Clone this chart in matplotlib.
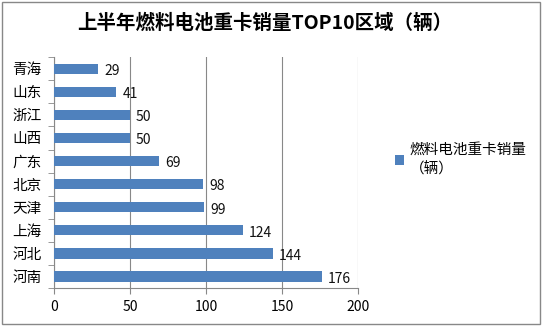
import matplotlib
matplotlib.use('Agg')
import matplotlib.pyplot as plt
from matplotlib.patches import Rectangle

plt.rcParams['font.family'] = ['Noto Sans CJK SC', 'DejaVu Sans']

regions = ['青海', '山东', '浙江', '山西', '广东', '北京', '天津', '上海', '河北', '河南']
sales = [29, 41, 50, 50, 69, 98, 99, 124, 144, 176]
xticks = [0, 50, 100, 150, 200]

fig = plt.figure(figsize=(5.42, 3.26), dpi=100)
ax = fig.add_axes([0.0996, 0.1166, 0.561, 0.708])

y = list(range(len(regions)))[::-1]
bars = ax.barh(y, sales, height=0.45, color='#4F81BD', label='燃料电池重卡销量\n（辆）', zorder=3)
for yi, v in zip(y, sales):
    ax.text(v + 4, yi - 0.1, str(v), va='center', ha='left', fontsize=10, color='#111111')

ax.set_xlim(0, 200)
ax.set_ylim(-0.5, len(regions) - 0.5)
ax.set_xticks(xticks)
ax.set_xticklabels([str(t) for t in xticks], fontsize=10)
ax.set_yticks(y)
ax.set_yticklabels(regions, fontsize=10.5)
ax.set_yticks([i - 0.5 for i in range(len(regions) + 1)], minor=True)
ax.tick_params(axis='y', which='major', length=0, pad=9)
ax.tick_params(axis='y', which='minor', length=4, color='#888888')
ax.tick_params(axis='x', length=4, color='#888888', pad=5)
ax.xaxis.grid(True, color='#888888', linewidth=0.8, zorder=0)
for s in ['top', 'right']:
    ax.spines[s].set_visible(False)
for s in ['left', 'bottom']:
    ax.spines[s].set_color('#888888')

fig.text(0.488, 0.93, '上半年燃料电池重卡销量TOP10区域（辆）', ha='center', va='center',
         fontsize=14, fontweight='bold')

leg = fig.legend(handles=[bars], loc='center left', bbox_to_anchor=(0.705, 0.51), frameon=False,
                 fontsize=10.5, handlelength=0.6, handleheight=0.6, handletextpad=0.4)
for t in leg.get_texts():
    t.set_multialignment('left')
    t.set_linespacing(1.5)

fig.patches.append(Rectangle((0.003, 0.005), 0.994, 0.99, transform=fig.transFigure,
                             fill=False, edgecolor='#888888', linewidth=1))

fig.savefig('out.png', dpi=100)
